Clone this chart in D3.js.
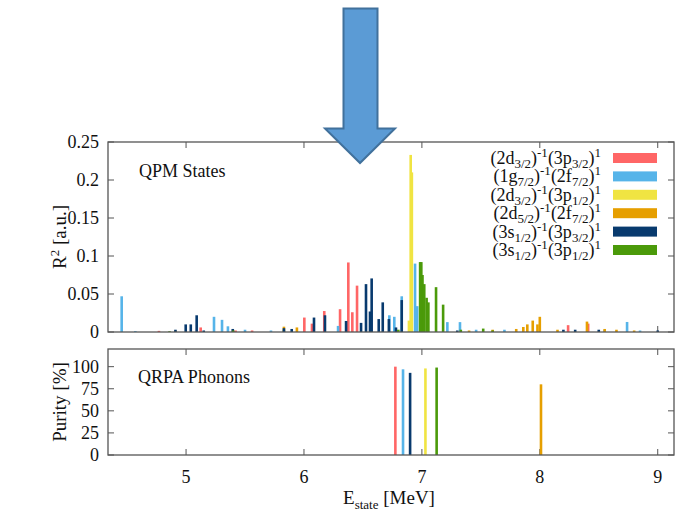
<!DOCTYPE html>
<html><head><meta charset="utf-8">
<script src="https://cdn.jsdelivr.net/npm/d3@7"></script>
<style>body{margin:0;background:#fff}svg{display:block}</style>
</head><body>
<script>
// ---- data ----
const seriesNames = [
  {c:"2d",a:"3/2",p:"3p",b:"3/2"},
  {c:"1g",a:"7/2",p:"2f",b:"7/2"},
  {c:"2d",a:"3/2",p:"3p",b:"1/2"},
  {c:"2d",a:"5/2",p:"2f",b:"7/2"},
  {c:"3s",a:"1/2",p:"3p",b:"3/2"},
  {c:"3s",a:"1/2",p:"3p",b:"1/2"}
];
const seriesColors = ["#ff6666","#56b4e9","#f0e442","#e69f00","#083a6e","#4b9a0a"];
const xTicks = [5,6,7,8,9];
const yTicksTop = [0,0.05,0.1,0.15,0.2,0.25];
const yTicksBottom = [0,25,50,75,100];

const qpmRed = [[4.77,0.0015],[5.124,0.006],[5.42,0.002],[5.56,0.002],[6.003,0.019],[6.068,0.011],[6.172,0.0276],[6.306,0.030],[6.376,0.0915],[6.41,0.026],[6.45,0.061],[8.24,0.009],[8.41,0.011]];
const qpmBlue = [[4.454,0.047],[4.57,0.0012],[5.237,0.020],[5.305,0.016],[5.355,0.0075],[5.50,0.003],[5.72,0.002],[5.83,0.003],[6.289,0.008],[6.724,0.022],[6.766,0.020],[6.829,0.047],[6.942,0.090],[6.96,0.034],[7.216,0.013],[7.323,0.013],[7.46,0.003],[7.70,0.003],[8.55,0.003],[8.74,0.0132],[8.85,0.002]];
const qpmYellow = [[6.89,0.015],[6.905,0.233],[6.915,0.21],[7.0,0.005]];
const qpmOrange = [[4.91,0.002],[5.83,0.007],[5.94,0.006],[7.40,0.002],[7.60,0.003],[7.80,0.004],[7.86,0.0066],[7.894,0.010],[7.94,0.015],[7.98,0.010],[8.0,0.020],[8.15,0.003],[8.40,0.0137],[8.55,0.004],[8.65,0.003],[8.80,0.002]];
const qpmNavy = [[4.91,0.003],[4.997,0.010],[5.04,0.010],[5.09,0.022],[5.15,0.002],[5.396,0.004],[5.83,0.005],[5.896,0.004],[6.085,0.019],[6.178,0.022],[6.357,0.0145],[6.484,0.012],[6.526,0.063],[6.56,0.027],[6.574,0.0705],[6.634,0.017],[6.668,0.039],[6.72,0.017],[6.78,0.006],[6.829,0.042],[7.30,0.002],[8.20,0.003],[8.30,0.003],[8.50,0.003],[9.0,0.002]];
const qpmGreen = [[4.86,0.001],[5.40,0.002],[6.80,0.003],[6.985,0.092],[6.995,0.092],[7.005,0.075],[7.02,0.063],[7.04,0.045],[7.055,0.039],[7.12,0.059],[7.18,0.036],[7.33,0.003],[7.52,0.0045],[7.60,0.002]];
const qpmSeries = [qpmRed,qpmBlue,qpmYellow,qpmOrange,qpmNavy,qpmGreen];

const phononE = [6.775,6.84,6.90,7.03,7.125,8.01];
const phononPurity = [100,97,93,98,99,80];
const phononSeries = [0,1,4,2,5,3];

// ---- layout ----
const W=683,H=516;
const L=108,R=674, T1=142,B1=332, T2=349,B2=455;
const FONT="'Liberation Serif','Times New Roman','DejaVu Serif',serif";
const svg=d3.select("body").append("svg").attr("width",W).attr("height",H)
  .attr("font-family",FONT).style("font-family",FONT).attr("fill","#111");
const x=d3.scaleLinear().domain([4.338,9.138]).range([L,R]);
const y1=d3.scaleLinear().domain([0,0.25]).range([B1,T1]);
const y2=d3.scaleLinear().domain([0,120]).range([B2,T2]);
const frameColor="#555", tickLen=6;

function panel(y,yt,fmt,top,bot){
  const g=svg.append("g");
  xTicks.forEach(v=>{
    g.append("line").attr("x1",x(v)).attr("x2",x(v)).attr("y1",bot).attr("y2",bot-tickLen).attr("stroke",frameColor);
    g.append("line").attr("x1",x(v)).attr("x2",x(v)).attr("y1",top).attr("y2",top+tickLen).attr("stroke",frameColor);
  });
  yt.forEach(v=>{
    g.append("line").attr("x1",L).attr("x2",L+tickLen).attr("y1",y(v)).attr("y2",y(v)).attr("stroke",frameColor);
    g.append("line").attr("x1",R).attr("x2",R-tickLen).attr("y1",y(v)).attr("y2",y(v)).attr("stroke",frameColor);
    g.append("text").attr("x",L-9).attr("y",y(v)+6).attr("text-anchor","end").attr("font-size",18).text(fmt(v));
  });
  return g;
}
panel(y1,yTicksTop,v=>v===0?"0":String(v),T1,B1);
panel(y2,yTicksBottom,v=>String(v),T2,B2);

// QPM bars
qpmSeries.forEach((arr,i)=>{
  svg.append("g").selectAll("rect").data(arr).join("rect")
    .attr("x",d=>x(d[0])-1.3).attr("width",2.6)
    .attr("y",d=>y1(d[1])).attr("height",d=>y1(0)-y1(d[1]))
    .attr("fill",seriesColors[i]);
});
// phonon bars
svg.append("g").selectAll("rect").data(phononE).join("rect")
  .attr("x",d=>x(d)-1.3).attr("width",2.6)
  .attr("y",(d,i)=>y2(phononPurity[i])).attr("height",(d,i)=>y2(0)-y2(phononPurity[i]))
  .attr("fill",(d,i)=>seriesColors[phononSeries[i]]);

// frames
[[T1,B1],[T2,B2]].forEach(([t,b])=>{
  svg.append("rect").attr("x",L).attr("y",t).attr("width",R-L).attr("height",b-t)
    .attr("fill","none").attr("stroke",frameColor).attr("stroke-width",1.3);
});

// x tick labels
xTicks.forEach(v=>{
  svg.append("text").attr("x",x(v)).attr("y",483).attr("text-anchor","middle").attr("font-size",18).text(v);
});

// panel labels
svg.append("text").attr("x",139).attr("y",177).attr("font-size",18).text("QPM States");
svg.append("text").attr("x",138).attr("y",383).attr("font-size",18).text("QRPA Phonons");

// axis titles
const yt1=svg.append("text").attr("transform","translate(66,237) rotate(-90)").attr("text-anchor","middle").attr("font-size",19);
yt1.append("tspan").text("R");
yt1.append("tspan").attr("dy",-7).attr("font-size",13).text("2");
yt1.append("tspan").attr("dy",7).text(" [a.u.]");
svg.append("text").attr("transform","translate(66,402) rotate(-90)").attr("text-anchor","middle").attr("font-size",19).text("Purity [%]");
const xt=svg.append("text").attr("x",389).attr("y",504).attr("text-anchor","middle").attr("font-size",19);
xt.append("tspan").text("E");
xt.append("tspan").attr("dy",5).attr("font-size",13).text("state");
xt.append("tspan").attr("dy",-5).text(" [MeV]");

// legend
const legY0=164, legDy=18.4;
seriesNames.forEach((s,i)=>{
  const yy=legY0+i*legDy;
  const t=svg.append("text").attr("x",601).attr("y",yy).attr("text-anchor","end").attr("font-size",18);
  t.append("tspan").text("("+s.c);
  t.append("tspan").attr("dy",4).attr("font-size",13).text(s.a);
  t.append("tspan").attr("dy",-4).text(")");
  t.append("tspan").attr("dy",-7).attr("font-size",13).text("-1");
  t.append("tspan").attr("dy",7).text("("+s.p);
  t.append("tspan").attr("dy",4).attr("font-size",13).text(s.b);
  t.append("tspan").attr("dy",-4).text(")");
  t.append("tspan").attr("dy",-7).attr("font-size",13).text("1");
  svg.append("rect").attr("x",613).attr("y",yy-11).attr("width",44).attr("height",10).attr("fill",seriesColors[i]);
});

// arrow
const ap=[[343.5,8.5],[377.5,8.5],[377.5,128.5],[395,128.5],[360,163],[325,128.5],[343.5,128.5]];
svg.append("path").attr("d",d3.line()(ap)+"Z").attr("fill","#5b9bd5").attr("stroke","#41719c").attr("stroke-width",2).attr("stroke-linejoin","miter");
</script>
</body></html>
